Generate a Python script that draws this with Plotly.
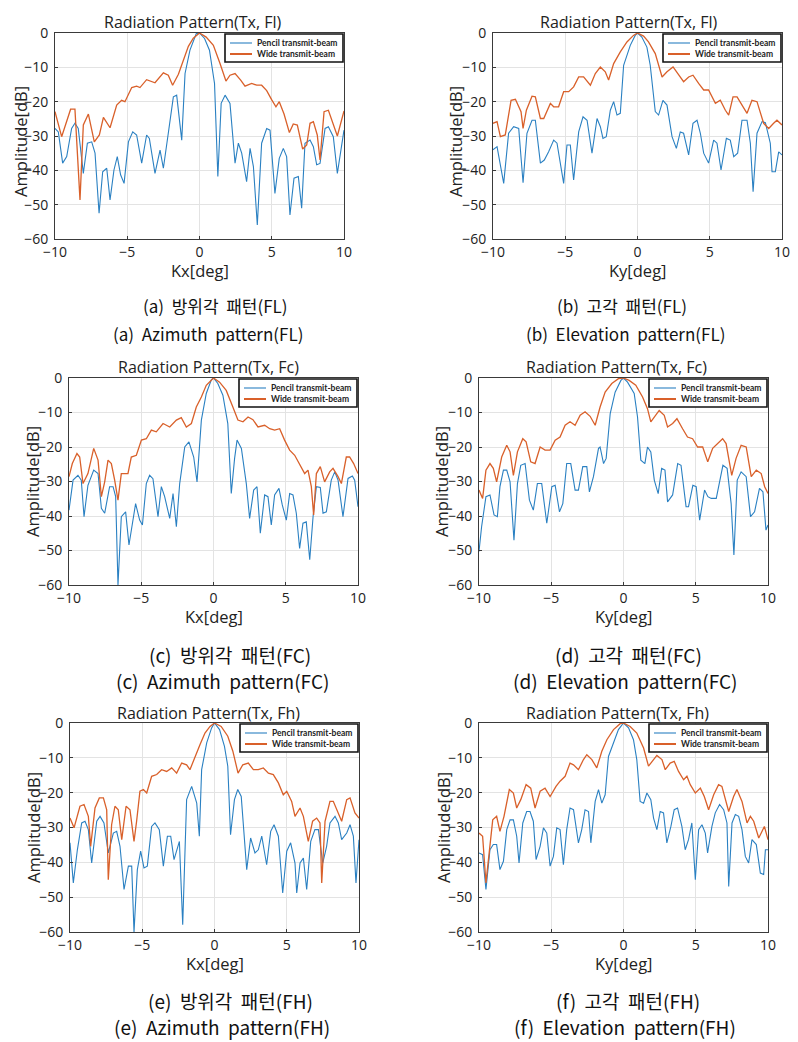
import plotly.graph_objects as go

# ---------------- data (kx/ky [deg], amplitude [dB]) ----------------
TICK_X = [-10, -5, 0, 5, 10]
TICK_Y = [-60, -50, -40, -30, -20, -10, 0]
SERIES_NAMES = ["Pencil transmit-beam", "Wide transmit-beam"]
TITLES = ["Radiation Pattern(Tx, Fl)", "Radiation Pattern(Tx, Fl)",
          "Radiation Pattern(Tx, Fc)", "Radiation Pattern(Tx, Fc)",
          "Radiation Pattern(Tx, Fh)", "Radiation Pattern(Tx, Fh)"]
XLABELS = ["Kx[deg]", "Ky[deg]", "Kx[deg]", "Ky[deg]", "Kx[deg]", "Ky[deg]"]
YLABEL = "Amplitude[dB]"
CAPTIONS_KR = ["(a)  방위각  패턴(FL)", "(b)  고각  패턴(FL)",
               "(c)  방위각  패턴(FC)", "(d)  고각  패턴(FC)",
               "(e)  방위각  패턴(FH)", "(f)  고각  패턴(FH)"]
CAPTIONS_EN = ["(a)  Azimuth  pattern(FL)", "(b)  Elevation  pattern(FL)",
               "(c)  Azimuth  pattern(FC)", "(d)  Elevation  pattern(FC)",
               "(e)  Azimuth  pattern(FH)", "(f)  Elevation  pattern(FH)"]

A_PENCIL = [(-10,-27.8),(-9.77,-28.8),(-9.47,-37.9),(-9.19,-36),(-8.85,-27.8),(-8.62,-26.3),(-8.39,-27.8),(-8.04,-40.9),(-7.76,-32.1),(-7.46,-31.7),(-7.23,-35),(-6.95,-52.5),(-6.7,-40.4),(-6.42,-39.4),(-6.19,-48.6),(-5.92,-39.9),(-5.69,-36),(-5.46,-41.3),(-5.22,-43.8),(-4.92,-31.7),(-4.62,-28.8),(-4.35,-29.7),(-4,-37.9),(-3.66,-29.7),(-3.47,-30.7),(-3.08,-40.9),(-2.73,-34.1),(-2.5,-39.4),(-2.16,-29.2),(-1.81,-18.6),(-1.58,-18.1),(-1.23,-31.2),(-1,-11.8),(-0.66,-5),(-0.23,-0.2),(0,0),(0.35,-1.6),(0.69,-5),(1.04,-14.7),(1.27,-41.8),(1.5,-20.5),(1.77,-18.1),(2.11,-20.5),(2.46,-37.9),(2.69,-32.1),(2.92,-35),(3.26,-43.3),(3.5,-33.6),(3.73,-38.9),(4,-55.9),(4.3,-32.1),(4.65,-27.8),(4.88,-28.3),(5.22,-46.7),(5.52,-36.5),(5.8,-33.6),(6.03,-36),(6.26,-53),(6.54,-42.3),(6.84,-41.8),(7.07,-51),(7.3,-32.1),(7.65,-31.2),(7.88,-33.1),(8.11,-38.4),(8.34,-38),(8.69,-27.8),(8.92,-27.3),(9.26,-30.2),(9.54,-40.9),(10,-28.3)]
A_WIDE = [(-10,-22.9),(-9.54,-30.2),(-8.92,-22.2),(-8.62,-22.2),(-8.27,-48.6),(-8.04,-26.8),(-7.69,-23.6),(-7.28,-31.7),(-6.93,-29.7),(-6.65,-24.6),(-6.19,-27.6),(-5.73,-21),(-5.39,-19.6),(-5.16,-20),(-4.69,-15.9),(-4.35,-15.5),(-4.12,-15.9),(-3.66,-13.6),(-3.08,-14.5),(-2.5,-11.6),(-2.16,-12.3),(-1.86,-15.2),(-1.46,-12),(-1.12,-7.7),(-0.77,-3.9),(-0.43,-1.5),(0,0),(0.46,-1.2),(0.96,-3.6),(1.42,-8.9),(1.83,-14),(2.11,-12.3),(2.46,-11.8),(2.85,-13.7),(3.15,-15.5),(3.61,-14.7),(3.96,-15.2),(4.3,-15.2),(4.65,-16.8),(4.99,-19.4),(5.29,-21.5),(5.52,-20),(5.85,-23.6),(6.22,-29),(6.49,-26.5),(6.77,-26.8),(7.14,-33.8),(7.42,-32.6),(7.65,-26.3),(7.88,-25.8),(8.15,-29.7),(8.34,-37),(8.62,-22.9),(8.92,-22.5),(9.26,-26.8),(9.54,-30),(10,-22.7)]

B_PENCIL = [(-10,-34),(-9.72,-33.1),(-9.26,-43.8),(-8.92,-29.2),(-8.57,-27.3),(-8.22,-27.8),(-7.92,-43.6),(-7.65,-29.2),(-7.3,-25.4),(-7.07,-25.4),(-6.72,-37.9),(-6.45,-37),(-6.15,-34.6),(-5.8,-31.2),(-5.57,-32.1),(-5.11,-43.8),(-4.88,-32.6),(-4.65,-32.6),(-4.42,-42.8),(-4.07,-28.8),(-3.77,-24.4),(-3.49,-25.4),(-3.15,-35),(-2.8,-24.9),(-2.57,-27.3),(-2.39,-30.7),(-2.16,-30.2),(-1.88,-22.5),(-1.65,-20),(-1.42,-23.9),(-1.19,-23.4),(-0.96,-9.4),(-0.5,-3.6),(-0.16,-0.7),(0,0),(0.3,-1.2),(0.65,-4.1),(0.88,-9.4),(1.23,-22.9),(1.46,-23.9),(1.76,-19.6),(2.04,-21),(2.39,-30.2),(2.69,-33.6),(2.96,-28.8),(3.19,-29.2),(3.54,-35.5),(3.84,-26.3),(4.12,-25.4),(4.35,-29.2),(4.58,-35),(4.92,-37.9),(5.27,-31.2),(5.5,-32.1),(5.78,-39.9),(6.15,-30.7),(6.42,-31.2),(6.66,-36),(6.93,-35),(7.23,-25.4),(7.58,-25.4),(7.81,-32.1),(8,-46.2),(8.27,-29.2),(8.62,-25.8),(8.85,-26.1),(9.19,-32.1),(9.31,-40.4),(9.54,-40.4),(9.77,-34.6),(10,-35.5)]
B_WIDE = [(-10,-26.3),(-9.72,-25.8),(-9.49,-30.2),(-9.15,-29.7),(-8.75,-19.6),(-8.45,-19.3),(-8.06,-22.9),(-7.92,-27.8),(-7.69,-22.5),(-7.3,-18.4),(-7.07,-18.6),(-6.72,-24.9),(-6.49,-24.9),(-6.03,-20.5),(-5.8,-21.5),(-5.46,-21.5),(-5.11,-17.1),(-4.76,-17.1),(-4.42,-15.7),(-4.07,-12.8),(-3.73,-12.8),(-3.26,-15.2),(-2.92,-11.8),(-2.57,-9.9),(-2.23,-11.3),(-2,-13.7),(-1.65,-8.9),(-1.19,-5.5),(-0.73,-2.6),(-0.28,-0.7),(0,0),(0.42,-0.9),(0.76,-2.6),(1.23,-6),(1.7,-12.8),(2.04,-11.3),(2.46,-9.9),(2.85,-12.3),(3.19,-14.2),(3.54,-12.8),(3.84,-12.3),(4.23,-14.7),(4.58,-16.6),(4.92,-16.6),(5.39,-20.5),(5.73,-19.6),(6.08,-22.5),(6.31,-23.9),(6.61,-18.6),(6.89,-18.6),(7.35,-22),(7.58,-23.4),(7.92,-19.6),(8.27,-20),(8.73,-26.3),(9.08,-27.8),(9.42,-26.3),(9.65,-25.4),(10,-26.8)]

C_PENCIL = [(-10,-38.3),(-9.72,-29.6),(-9.38,-28.2),(-9.15,-29.6),(-8.96,-40.2),(-8.69,-31.1),(-8.29,-26.7),(-7.99,-27.7),(-7.76,-37.8),(-7.53,-39.2),(-7.19,-31.5),(-6.95,-31.5),(-6.77,-34.4),(-6.61,-60),(-6.38,-40.2),(-6.08,-38.8),(-5.85,-48.4),(-5.62,-41.7),(-5.39,-36.4),(-5.11,-41.2),(-4.92,-42.6),(-4.65,-30.6),(-4.42,-28.2),(-4.19,-29.2),(-3.84,-40.2),(-3.61,-31.5),(-3.38,-34.4),(-3.03,-40.7),(-2.8,-33.5),(-2.57,-43.1),(-2.34,-30.6),(-1.99,-20),(-1.7,-18.5),(-1.37,-22.9),(-1.14,-30.1),(-0.84,-12.2),(-0.5,-4.5),(-0.15,-0.5),(0,0),(0.3,-1.6),(0.65,-5),(0.99,-13.2),(1.23,-33.5),(1.46,-23.3),(1.63,-18),(1.93,-20.4),(2.27,-30.6),(2.5,-40.7),(2.78,-32.5),(3.01,-31.5),(3.24,-45),(3.54,-33.9),(3.77,-34.4),(4,-42.6),(4.23,-33.9),(4.53,-32),(4.76,-36.8),(5.04,-41.2),(5.27,-33.5),(5.5,-33.9),(5.73,-39.2),(5.96,-49.4),(6.19,-42.1),(6.42,-41.7),(6.66,-52.7),(6.89,-40.2),(7.12,-31.5),(7.39,-31.7),(7.58,-39.2),(7.81,-38.8),(8.15,-29.6),(8.39,-27.2),(8.62,-29.6),(8.96,-40.2),(9.31,-29.1),(9.61,-28.4),(9.77,-29.6),(10,-37.3)]
C_WIDE = [(-10,-28.6),(-9.77,-24.8),(-9.45,-21.9),(-9.26,-22.9),(-9.03,-30.6),(-8.69,-27.7),(-8.29,-20.4),(-7.99,-23.8),(-7.76,-34.4),(-7.53,-30.1),(-7.3,-23.8),(-7.07,-24.8),(-6.84,-29.6),(-6.61,-35.4),(-6.38,-27.7),(-5.92,-27.7),(-5.69,-22.9),(-5.34,-22.4),(-4.99,-18),(-4.65,-17.6),(-4.3,-15.1),(-3.96,-15.6),(-3.49,-13.2),(-3.03,-14.2),(-2.57,-12.2),(-2.23,-11.5),(-1.88,-14.2),(-1.53,-13.2),(-1.19,-8.4),(-0.84,-5.5),(-0.5,-2.1),(-0.15,-0.5),(0,0),(0.42,-1.2),(0.88,-3.6),(1.34,-8.4),(1.69,-12.2),(2.04,-12.7),(2.39,-11.3),(2.73,-12.1),(3.08,-14.2),(3.54,-13.7),(3.89,-14.7),(4.23,-15.1),(4.58,-14.7),(4.92,-18),(5.27,-20.9),(5.62,-22.4),(5.96,-24.8),(6.31,-27.7),(6.54,-26.7),(6.77,-31.5),(6.93,-39.7),(7.12,-27.7),(7.39,-25.7),(7.69,-30.1),(8.04,-27.2),(8.27,-26.2),(8.62,-28.6),(8.85,-30.6),(9.19,-22.9),(9.42,-22.9),(9.7,-24.8),(10,-27.7)]

D_PENCIL = [(-10,-50.3),(-9.82,-43.1),(-9.52,-34.4),(-9.24,-33.9),(-8.96,-39.7),(-8.73,-40.2),(-8.55,-31.5),(-8.31,-26.7),(-8.08,-26.7),(-7.85,-30.1),(-7.58,-47),(-7.34,-30.6),(-7.11,-25.3),(-6.81,-24.8),(-6.51,-35.4),(-6.24,-38.3),(-5.96,-30.6),(-5.66,-30.6),(-5.31,-42.1),(-4.96,-31.5),(-4.73,-31.1),(-4.43,-38.8),(-4.2,-36.4),(-3.93,-24.8),(-3.65,-24.8),(-3.35,-32.5),(-3.12,-32.5),(-2.82,-25.7),(-2.54,-25.7),(-2.36,-33),(-2.08,-28.6),(-1.73,-20.4),(-1.62,-20),(-1.38,-24.8),(-1.2,-23.3),(-0.92,-10.3),(-0.58,-4.1),(-0.18,-0.7),(0,0),(0.28,-1.2),(0.74,-4.5),(0.97,-11.3),(1.2,-23.8),(1.48,-24.8),(1.66,-20),(1.89,-21.4),(2.13,-29.6),(2.4,-33.5),(2.64,-26.2),(2.87,-26.7),(3.05,-35.9),(3.4,-33.9),(3.75,-24.8),(3.98,-25.3),(4.33,-37.3),(4.5,-37.3),(4.8,-31.1),(5.03,-31.5),(5.27,-41.2),(5.61,-32.5),(5.84,-34.4),(6.07,-34.9),(6.42,-34.9),(6.66,-29.6),(6.88,-25.3),(7.17,-26.2),(7.45,-36.4),(7.64,-51.3),(7.87,-29.6),(8.14,-27.2),(8.49,-28.6),(8.79,-40.2),(9.07,-38.8),(9.41,-32),(9.65,-33),(9.86,-44.1),(10,-42.6)]
D_WIDE = [(-10,-32.5),(-9.75,-34.9),(-9.52,-26.7),(-9.24,-24.8),(-9.01,-26.2),(-8.78,-30.1),(-8.43,-22.9),(-8.08,-19.5),(-7.85,-21.4),(-7.62,-28.2),(-7.34,-21.4),(-6.97,-17.6),(-6.74,-18.5),(-6.42,-24.3),(-6.12,-24.8),(-5.77,-20),(-5.43,-20.9),(-5.08,-20.9),(-4.73,-18),(-4.39,-17.1),(-4.04,-13.7),(-3.7,-12.7),(-3.35,-13.7),(-3,-10.8),(-2.66,-9.8),(-2.31,-11.1),(-1.96,-13.7),(-1.62,-8.4),(-1.27,-4.1),(-0.81,-1.6),(-0.35,-0.2),(0,0),(0.39,-0.7),(0.85,-2.1),(1.32,-5.5),(1.66,-8.9),(1.89,-12.7),(2.13,-11.3),(2.47,-9.4),(2.82,-10.8),(3.05,-14.2),(3.4,-13.2),(3.7,-11.8),(4.09,-14.7),(4.43,-17.1),(4.78,-17.6),(5.13,-20),(5.48,-20),(5.83,-24.3),(6.17,-20.4),(6.52,-19),(6.86,-17.6),(7.1,-19),(7.49,-28.2),(7.79,-23.3),(8.14,-19.5),(8.49,-20),(8.84,-28.6),(9.19,-26.7),(9.53,-27.7),(9.77,-31.5),(10,-33.5)]

E_PENCIL = [(-10,-34.4),(-9.77,-45.9),(-9.49,-36.4),(-9.19,-28.7),(-8.96,-28.2),(-8.73,-30.6),(-8.5,-40.2),(-8.15,-28.2),(-7.92,-26.8),(-7.65,-28.7),(-7.35,-37.3),(-7,-31.6),(-6.77,-31.1),(-6.54,-35.4),(-6.26,-47.8),(-5.96,-41.1),(-5.73,-41.1),(-5.57,-60),(-5.34,-42.1),(-5.11,-36.8),(-4.88,-41.6),(-4.65,-41.1),(-4.35,-29.7),(-4.12,-28.7),(-3.82,-30.6),(-3.54,-41.1),(-3.26,-32.5),(-3.03,-32.5),(-2.8,-39.2),(-2.43,-34),(-2.2,-57.9),(-1.93,-22),(-1.58,-18.2),(-1.23,-23),(-1.05,-32.5),(-0.89,-13.4),(-0.54,-5.7),(-0.2,-1.4),(0,0),(0.35,-1.9),(0.69,-6.7),(0.92,-12.4),(1.11,-32.1),(1.38,-22),(1.61,-19.1),(1.85,-21.1),(2.23,-42.1),(2.5,-33),(2.8,-37.3),(3.03,-36.4),(3.27,-32.5),(3.61,-40.7),(3.89,-31.1),(4.12,-29.2),(4.42,-32.5),(4.72,-48.8),(5,-36.8),(5.27,-34.4),(5.57,-40.2),(5.69,-48.8),(5.92,-40.2),(6.15,-38.8),(6.38,-47.8),(6.66,-34),(6.95,-30.6),(7.19,-30.6),(7.49,-40.2),(7.76,-35.4),(7.99,-28.7),(8.34,-26.8),(8.57,-28.7),(8.8,-33.5),(9.15,-31.6),(9.38,-29.2),(9.61,-32.5),(9.79,-45.9),(10,-33.5)]
E_WIDE = [(-10,-27.3),(-9.72,-30.1),(-9.31,-23.9),(-9.03,-23.4),(-8.73,-26.8),(-8.57,-35.4),(-8.27,-24.4),(-7.97,-21.5),(-7.69,-21.5),(-7.46,-24.9),(-7.35,-45),(-7.12,-29.2),(-6.89,-23.9),(-6.66,-24.9),(-6.42,-33.5),(-6.12,-23.9),(-5.85,-24.9),(-5.57,-34),(-5.39,-28.2),(-5.16,-19.6),(-4.92,-19.1),(-4.69,-20.1),(-4.35,-15.3),(-4,-14.8),(-3.66,-13.4),(-3.31,-13.9),(-2.96,-12.9),(-2.62,-14.4),(-2.27,-11.5),(-1.93,-12),(-1.7,-13.4),(-1.35,-9.6),(-1,-6.2),(-0.66,-2.9),(-0.31,-1),(0,0),(0.46,-1),(0.92,-3.8),(1.27,-8.1),(1.63,-14.4),(1.96,-12),(2.34,-11.5),(2.69,-13.4),(3.03,-13.4),(3.38,-12.9),(3.73,-14.4),(4.07,-14.8),(4.42,-17.2),(4.76,-20.6),(5,-19.6),(5.34,-22.5),(5.57,-26.8),(5.92,-24.4),(6.15,-26.8),(6.49,-34),(6.79,-28.2),(7.07,-27.3),(7.3,-28.7),(7.42,-45.9),(7.65,-28.2),(7.99,-22.5),(8.22,-22.5),(8.57,-25.8),(8.8,-28.2),(9.15,-22),(9.38,-21.5),(9.72,-25.8),(10,-27.3)]

F_PENCIL = [(-10,-37.3),(-9.75,-37.8),(-9.52,-47.8),(-9.24,-36.4),(-9.01,-34.9),(-8.78,-34.9),(-8.55,-42.1),(-8.31,-39.7),(-8.08,-30.6),(-7.85,-27.8),(-7.62,-27.8),(-7.39,-32.5),(-7.23,-40.2),(-6.97,-28.7),(-6.7,-25.4),(-6.47,-25.4),(-6.24,-28.2),(-6.05,-39.2),(-5.77,-35.4),(-5.54,-30.1),(-5.31,-31.6),(-5.08,-41.1),(-4.85,-38.3),(-4.62,-30.1),(-4.39,-30.6),(-4.16,-40.7),(-3.93,-30.6),(-3.7,-24.4),(-3.46,-24.9),(-3.12,-34.4),(-2.89,-30.6),(-2.66,-24.9),(-2.42,-25.4),(-2.26,-34.4),(-1.96,-22.5),(-1.73,-19.1),(-1.5,-23),(-1.27,-20.6),(-1.04,-9.6),(-0.69,-5.7),(-0.35,-1.9),(0,0),(0.35,-1.4),(0.69,-4.8),(0.92,-10.5),(1.15,-22.5),(1.39,-23),(1.62,-20.1),(1.89,-22),(2.08,-27.3),(2.31,-30.6),(2.54,-25.4),(2.77,-25.8),(3,-34.4),(3.28,-29.7),(3.51,-24.9),(3.74,-24.4),(4.04,-29.7),(4.27,-36.4),(4.5,-33.5),(4.73,-28.7),(4.9,-40.2),(4.97,-45),(5.2,-30.6),(5.43,-29.2),(5.66,-31.6),(5.82,-37.3),(6.12,-29.7),(6.35,-25.8),(6.65,-23.4),(6.93,-24.9),(7.16,-28.7),(7.28,-46.9),(7.51,-28.7),(7.74,-26.3),(7.97,-26.8),(8.2,-30.6),(8.43,-38.3),(8.66,-40.2),(8.89,-33.5),(9.19,-34.9),(9.47,-43.1),(9.7,-43.5),(9.82,-36.4),(10,-36.4)]
F_WIDE = [(-10,-31.6),(-9.75,-32.5),(-9.52,-45.9),(-9.28,-37.3),(-9.05,-27.8),(-8.78,-26.8),(-8.55,-31.1),(-8.27,-26.8),(-7.9,-19.1),(-7.62,-20.1),(-7.39,-24.4),(-7.11,-22),(-6.74,-17.7),(-6.42,-18.7),(-6.12,-24.4),(-5.77,-19.6),(-5.43,-18.7),(-5.08,-21.1),(-4.67,-18.2),(-4.39,-16.7),(-4.04,-15.3),(-3.7,-11.5),(-3.46,-12),(-3.12,-13.4),(-2.77,-10.5),(-2.54,-9.1),(-2.19,-10.5),(-1.85,-12.9),(-1.5,-8.1),(-1.15,-4.8),(-0.69,-1.9),(-0.23,-0.2),(0,0),(0.46,-1),(0.92,-2.9),(1.39,-7.2),(1.73,-12.4),(2.08,-10.5),(2.31,-9.3),(2.66,-10.5),(2.89,-13.4),(3.23,-11.5),(3.51,-11),(3.81,-13.9),(4.16,-16.3),(4.39,-15.3),(4.62,-17.7),(4.97,-20.1),(5.32,-18.7),(5.59,-21.1),(5.89,-24.9),(6.24,-20.6),(6.58,-17.7),(6.81,-18.2),(7.16,-23.4),(7.28,-25.4),(7.62,-21.1),(7.85,-19.1),(8.2,-22.5),(8.55,-28.7),(8.78,-26.8),(9.01,-28.2),(9.36,-33),(9.58,-31.1),(9.75,-29.7),(10,-33.5)]

PANEL_DATA = [(A_PENCIL, A_WIDE), (B_PENCIL, B_WIDE), (C_PENCIL, C_WIDE),
              (D_PENCIL, D_WIDE), (E_PENCIL, E_WIDE), (F_PENCIL, F_WIDE)]

# ---------------- layout (pixels) ----------------
W, H = 798, 1042
# plot boxes: left, right, top, bottom
BOXES = [(55, 344, 33, 239), (493, 782, 33, 239),
         (69, 358, 378, 585), (479, 768, 378, 585),
         (70, 359, 723, 932), (479, 768, 723, 932)]
TITLE_POS = [(193, 22), (629, 22), (208, 367), (616, 367), (208, 713), (617, 713)]
XLAB_POS = [(200, 270), (637, 270), (214, 616), (623, 616), (215, 963), (623, 963)]
YLAB_POS = [(20, 142), (455, 142), (33, 482), (442, 482), (33, 828), (443, 828)]
CAP_KR_POS = [(215, 305), (622, 305), (230, 654), (628, 654), (230, 1000), (628, 1000)]
CAP_EN_POS = [(208, 333), (625, 333), (222, 680), (625, 680), (222, 1026), (625, 1026)]
CAP_SIZE = [17, 17, 19, 19, 19, 19]

BLUE = "#2a80c2"
ORANGE = "#d9602a"
FONT = "Open Sans, Noto Sans, sans-serif"
CJK = "Noto Sans CJK KR, sans-serif"


def px(x):
    return x / W


def py(y):
    return 1 - y / H


fig = go.Figure()
layout = dict(width=W, height=H, margin=dict(l=0, r=0, t=0, b=0),
              paper_bgcolor="white", plot_bgcolor="white", showlegend=False)
annotations = []
shapes = []


def add_text(x, y, text, size, family, color="#222", angle=0, anchor="center", bold=False):
    annotations.append(dict(x=px(x), y=py(y), text=("<b>%s</b>" % text) if bold else text,
                            showarrow=False, textangle=angle,
                            xref="paper", yref="paper", xanchor=anchor, yanchor="middle",
                            font=dict(family=family, size=size, color=color)))


for i, ((pencil, wide), box) in enumerate(zip(PANEL_DATA, BOXES)):
    n = i + 1
    sfx = "" if n == 1 else str(n)
    for pts, name, color, width in ((pencil, SERIES_NAMES[0], BLUE, 1.1),
                                    (wide, SERIES_NAMES[1], ORANGE, 1.3)):
        fig.add_trace(go.Scatter(x=[p[0] for p in pts], y=[p[1] for p in pts],
                                 mode="lines", name=name,
                                 line=dict(color=color, width=width),
                                 xaxis="x" + sfx, yaxis="y" + sfx))
    l, r, t, b = box
    axcommon = dict(showgrid=True, gridcolor="#e3e3e3", gridwidth=1, automargin=False,
                    zeroline=False, showline=True, linecolor="#3a3a3a",
                    linewidth=1, mirror=True, ticks="inside", ticklen=3,
                    tickcolor="#3a3a3a",
                    tickfont=dict(family=FONT, size=14, color="#222"))
    layout["xaxis" + sfx] = dict(axcommon, domain=[px(l), px(r)], range=[-10, 10],
                                 tickvals=TICK_X, anchor="y" + sfx)
    layout["yaxis" + sfx] = dict(axcommon, domain=[py(b), py(t)], range=[-60, 0],
                                 tickvals=TICK_Y, anchor="x" + sfx, ticklabelstandoff=3)

    # legend box (drawn manually, MATLAB style)
    lx0, lx1, ly0, ly1 = r - 119, r - 1, t + 1, t + 29
    shapes.append(dict(type="rect", xref="paper", yref="paper",
                       x0=px(lx0), x1=px(lx1), y0=py(ly1), y1=py(ly0),
                       line=dict(color="#111", width=1.6), fillcolor="white", layer="above"))
    for k, (name, color, width) in enumerate(((SERIES_NAMES[0], BLUE, 1.1),
                                              (SERIES_NAMES[1], ORANGE, 2))):
        yy = ly0 + 9 + 11 * k
        shapes.append(dict(type="line", xref="paper", yref="paper",
                           x0=px(lx0 + 5), x1=px(lx0 + 27), y0=py(yy), y1=py(yy),
                           line=dict(color=color, width=width), layer="above"))
        add_text(lx0 + 30, yy, name, 8.5, "Lato, sans-serif", "#222", anchor="left", bold=True)

    tx, ty = TITLE_POS[i]
    add_text(tx, ty, TITLES[i], 16, FONT)
    xx, xy = XLAB_POS[i]
    add_text(xx, xy, XLABELS[i], 16.5, FONT)
    yx, yy = YLAB_POS[i]
    add_text(yx, yy, YLABEL, 16.5, FONT, angle=-90)
    kx, ky = CAP_KR_POS[i]
    add_text(kx, ky, CAPTIONS_KR[i], CAP_SIZE[i], CJK, "#111")
    ex, ey = CAP_EN_POS[i]
    add_text(ex, ey, CAPTIONS_EN[i], CAP_SIZE[i], CJK, "#111")

layout["annotations"] = annotations
layout["shapes"] = shapes
fig.update_layout(**layout)
fig.write_html("out.html", config={"displayModeBar": False},
               post_script="document.body.style.margin='0';document.body.style.padding='0';")
